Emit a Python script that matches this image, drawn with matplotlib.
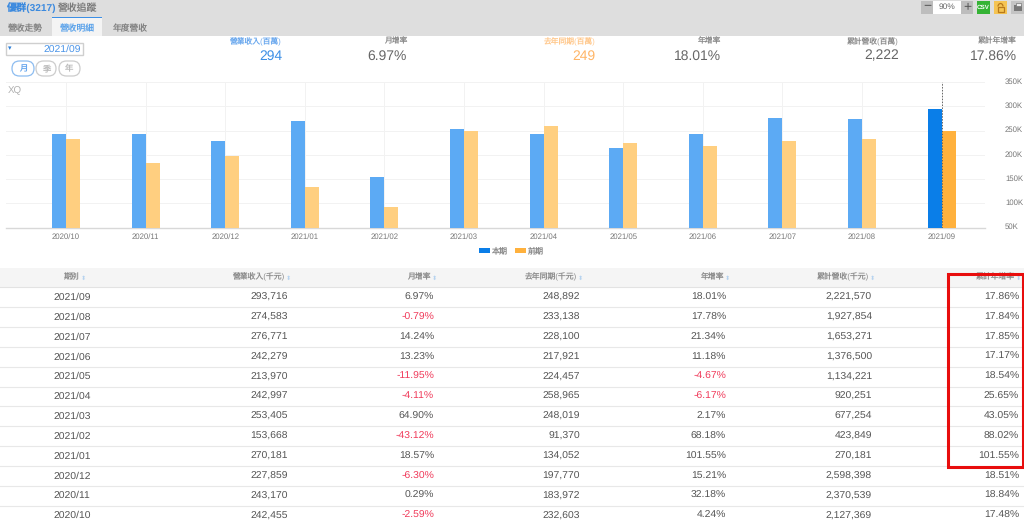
import matplotlib
matplotlib.use('Agg')
import matplotlib.pyplot as plt
from matplotlib.patches import Rectangle, FancyBboxPatch, Arc
from matplotlib.transforms import ScaledTranslation

FONT = ['Liberation Sans', 'Noto Sans CJK TC', 'DejaVu Sans']
plt.rcParams['font.family'] = FONT
plt.rcParams['text.hinting'] = 'none'

# ---------- data ----------
periods = ['2021/09','2021/08','2021/07','2021/06','2021/05','2021/04','2021/03','2021/02','2021/01','2020/12','2020/11','2020/10']
revenue = [293716,274583,276771,242279,213970,242997,253405,153668,270181,227859,243170,242455]
mom = ['6.97%','-0.79%','14.24%','13.23%','-11.95%','-4.11%','64.90%','-43.12%','18.57%','-6.30%','0.29%','-2.59%']
prior = [248892,233138,228100,217921,224457,258965,248019,91370,134052,197770,183972,232603]
yoy = ['18.01%','17.78%','21.34%','11.18%','-4.67%','-6.17%','2.17%','68.18%','101.55%','15.21%','32.18%','4.24%']
cum = [2221570,1927854,1653271,1376500,1134221,920251,677254,423849,270181,2598398,2370539,2127369]
cum_yoy = ['17.86%','17.84%','17.85%','17.17%','18.54%','25.65%','43.05%','88.02%','101.55%','18.51%','18.84%','17.48%']
headers = ['期別','營業收入(千元)','月增率','去年同期(千元)','年增率','累計營收(千元)','累計年增率']
y_ticks = [50000,100000,150000,200000,250000,300000,350000]
y_labels = ['50K','100K','150K','200K','250K','300K','350K']
tabs = ['營收走勢','營收明細','年度營收']
summary_heads = ['營業收入(百萬)','月增率','去年同期(百萬)','年增率','累計營收(百萬)','累計年增率']
summary_vals = ['294','6.97%','249','18.01%','2,222','17.86%']

W, H = 1024, 524
BLUE, ORANGE = '#0a7ee8', '#ffb13d'
BLUE_L, ORANGE_L = '#5caaf4', '#ffcf80'
GREY = '#555555'

fig = plt.figure(figsize=(W/100, H/100), dpi=100, facecolor='white')

# pixel-space overlay for the page furniture
pg = fig.add_axes([0, 0, 1, 1], zorder=0)
pg.set_xlim(0, W); pg.set_ylim(H, 0); pg.axis('off')

def T(x, y, s, size=7.5, color=GREY, ha='left', **kw):
    pg.text(x, y, s, fontsize=size, color=color, ha=ha, va='center', **kw)

# ---- top bar
pg.add_patch(Rectangle((0, 0), W, 36, fc='#dedede', ec='none'))
T(6, 8, '優群(3217)', 7.3, '#3c8ade', fontweight='bold')
T(58, 8, '營收追蹤', 7.1, '#7a7a7a')
pg.add_patch(Rectangle((52, 17), 50, 19, fc='#f4f4f4', ec='none'))
pg.add_patch(Rectangle((52, 17), 50, 1.2, fc='#3c8fe6', ec='none'))
for x, s, c in zip([25.5, 77, 130], tabs, ['#808080', '#5aa2ea', '#808080']):
    T(x, 28.5, s, 6.3, c, ha='center')

# toolbar
pg.add_patch(Rectangle((921, 1), 12, 13, fc='#bdbdbd', ec='none'))
pg.add_patch(Rectangle((933, 1), 28, 13, fc='white', ec='none'))
pg.add_patch(Rectangle((961, 1), 12, 13, fc='#bdbdbd', ec='none'))
T(946.5, 6.5, '90%', 6, '#666666', ha='center')
T(927, 7, '−', 10, '#555555', ha='center')
T(967, 7, '+', 10, '#555555', ha='center')
pg.add_patch(Rectangle((977, 1), 13, 13, fc='#35b335', ec='none'))
T(983.5, 7.5, 'CSV', 4.5, 'white', ha='center', fontweight='bold')
pg.add_patch(Rectangle((994, 1), 13, 13, fc='#f5c453', ec='none'))
pg.add_patch(Rectangle((997.5, 7), 6, 5, fc='none', ec='#b8791a', lw=0.9))
pg.add_patch(Arc((1000.5, 6.5), 5, 6, theta1=180, theta2=360, ec='#b8791a', lw=0.9))
pg.add_patch(Rectangle((1011, 1), 13, 13, fc='#c4c4c4', ec='none'))
pg.add_patch(Rectangle((1014, 5), 8, 6, fc='#777777', ec='none'))
pg.add_patch(Rectangle((1015.5, 3), 5, 2.5, fc='#eeeeee', ec='#777777', lw=0.5))

# ---- date selector and period buttons
pg.add_patch(Rectangle((5.5, 43), 77.5, 11.5, fc='white', ec='#cfcfcf', lw=1.0))
T(10, 48.5, '▾', 5, '#2f80d8', ha='center')
T(81, 49, '2021/09', 7.5, '#4a94e8', ha='right')
btn_x = [(12, 34), (36, 56), (59, 80)]
for (x0, x1), s, c, ew in zip(btn_x, '月季年', ['#6aa8ee', '#bbbbbb', '#bbbbbb'], ['#8cbcf0', '#cccccc', '#cccccc']):
    pg.add_patch(FancyBboxPatch((x0, 61), x1-x0, 15, boxstyle='round,pad=0,rounding_size=7.5', fc='white', ec=ew, lw=0.9))
    T((x0+x1)/2, 69, s, 6, c, ha='center')

# ---- summary block
rights = [282, 407, 595.5, 721, 899, 1017]
scolors = ['#3c8fe6', '#666666', '#ffb566', '#666666', '#666666', '#666666']
hcolors = ['#6aa8ee', '#8c8c8c', '#ffc88c', '#8c8c8c', '#8c8c8c', '#8c8c8c']
for x, h, v, c, hc in zip(rights, summary_heads, summary_vals, scolors, hcolors):
    T(x, 41.5, h, 5.6, hc, ha='right')
    T(x, 56, v, 10, c, ha='right')

# ---- table
rh = 19.85
pg.add_patch(Rectangle((0, 268), W, 19, fc='#f5f5f5', ec='none'))
pg.plot([0, W], [287, 287], color='#e3e3e3', lw=0.8)
aligns = [(80, 'right'), (285, 'right'), (431, 'right'), (577, 'right'), (724, 'right'), (869, 'right'), (1015, 'right')]
for (x, ha), h in zip(aligns, headers):
    T(x, 277, h, 5.65, '#8c8c8c', ha=ha)
    T(x + 4, 278, '⬍', 4.5, '#b7d3ef', ha='center', family='DejaVu Sans')
right_x = [288, 434, 580, 726, 872, 1019]
for i in range(len(periods)):
    y = 297.3 + i * rh
    pg.plot([0, W], [y + rh/2, y + rh/2], color='#e8e8e8', lw=0.8)
    T(72, y, periods[i], 7.5, GREY, ha='center')
    cells = [f'{revenue[i]:,}', mom[i], f'{prior[i]:,}', yoy[i], f'{cum[i]:,}', cum_yoy[i]]
    for x, s in zip(right_x, cells):
        T(x, y, s, 7.5, '#f03a5a' if s.startswith('-') else GREY, ha='right')

# red highlight frame
pg.add_patch(Rectangle((948, 274), 75, 193, fc='none', ec='#e80d0d', lw=2.2, zorder=6))

# ---- chart
L, R, TOP, BOT = 6, 985, 82, 227.5
ax = fig.add_axes([L/W, 1-BOT/H, (R-L)/W, (BOT-TOP)/H], zorder=2, facecolor='none')
chart_labels = periods[::-1]
cur = revenue[::-1]
prev = prior[::-1]
xs = list(range(len(chart_labels)))
bw = 14/79.6
ax.bar([x - bw/2 for x in xs], cur, bw, color=[BLUE_L]*11 + [BLUE], zorder=3)
ax.bar([x + bw/2 for x in xs], prev, bw, color=[ORANGE_L]*11 + [ORANGE], zorder=3)
ax.set_xlim((L-66)/79.6, (R-66)/79.6)
ax.set_ylim(50000, 350000)
ax.yaxis.tick_right()
ax.set_yticks(y_ticks, y_labels)
ax.set_xticks(xs, chart_labels)
ax.tick_params(axis='y', length=0, labelsize=5.6, labelcolor='#777777', pad=14.4)
ax.tick_params(axis='x', length=0, labelsize=5.6, labelcolor='#777777', pad=4)
shift = ScaledTranslation(0, 1/100, fig.dpi_scale_trans)
for lab in ax.get_yticklabels():
    lab.set_transform(lab.get_transform() + shift)
ax.grid(True, color='#f2f2f2', lw=0.7, zorder=0)
for s in ['top', 'left', 'right']:
    ax.spines[s].set_visible(False)
ax.spines['bottom'].set_color('#d8d8d8')
ax.spines['bottom'].set_linewidth(1)
ax.axvline(xs[-1], color='#666666', lw=0.7, ls=(0, (1.5, 1.5)), zorder=4)
ax.text(0.002, 0.94, 'XQ', transform=ax.transAxes, fontsize=7, color='#b0b0b0', ha='left', va='center')

# legend
pg.add_patch(Rectangle((479, 248), 11, 5, fc=BLUE, ec='none'))
T(492, 250.5, '本期', 5.8, '#8c8c8c')
pg.add_patch(Rectangle((515, 248), 11, 5, fc=ORANGE, ec='none'))
T(528, 250.5, '前期', 5.8, '#8c8c8c')

fig.savefig('out.png', dpi=100)
